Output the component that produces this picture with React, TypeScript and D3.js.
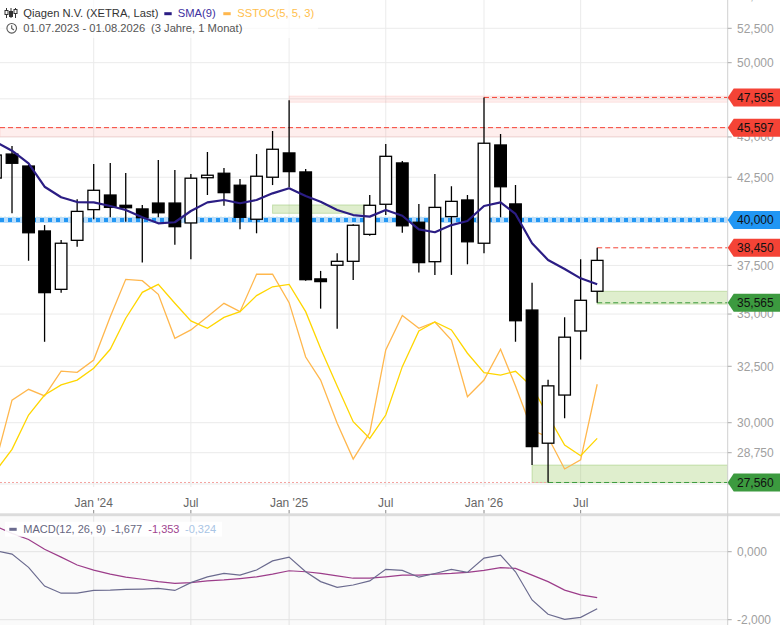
import React from 'react';
import * as d3 from 'd3';

const months = [
  "2023-07","2023-08","2023-09","2023-10","2023-11","2023-12",
  "2024-01","2024-02","2024-03","2024-04","2024-05","2024-06",
  "2024-07","2024-08","2024-09","2024-10","2024-11","2024-12",
  "2025-01","2025-02","2025-03","2025-04","2025-05","2025-06",
  "2025-07","2025-08","2025-09","2025-10","2025-11","2025-12",
  "2026-01","2026-02","2026-03","2026-04","2026-05","2026-06",
  "2026-07","2026-08"
];
const opens = [42.45,43.92,43.18,39.38,36.25,38.86, 40.59,41.44,40.84,40.63,40.97,40.97, 39.83,42.47,42.74,42.02,40.04,42.50, 43.99,42.82,36.79,37.51,37.72,39.19, 40.90,43.37,39.87,37.70,40.19,41.15, 38.70,44.49,40.92,35.20,29.14,31.20, 34.17,36.15];
const highs = [44.30,44.43,43.25,39.71,38.88,41.19, 43.31,43.37,42.76,40.86,43.55,42.94, 42.70,44.05,43.06,42.39,43.92,45.38, 47.40,43.00,37.21,38.15,39.75,41.44, 44.55,43.49,40.92,42.70,41.96,41.44, 47.595,45.19,42.03,36.59,31.88,34.84, 37.83,38.45];
const lows = [42.20,40.38,37.75,33.65,36.08,38.51, 40.04,40.15,39.90,37.65,40.15,38.62, 37.83,41.44,40.82,39.47,39.25,42.03, 41.90,36.70,35.27,34.28,36.73,39.12, 40.28,39.28,37.12,37.00,37.00,37.56, 38.15,40.15,33.65,28.25,27.56,30.19, 32.82,35.565];
const closes = [43.86,43.35,39.28,36.08,38.70,40.49, 41.72,40.72,40.70,40.13,40.41,39.62, 42.44,42.62,41.58,40.15,42.56,44.22, 42.84,36.75,36.65,37.72,39.70,40.84, 43.78,39.67,37.65,40.72,41.07,38.78, 44.60,41.93,34.67,29.00,31.61,33.87, 35.69,37.77];
const sma9 = [44.68,44.13,43.35,41.93,41.31,41.03, 41.01,40.80,40.57,40.15,39.81,39.87, 40.51,41.01,41.15,40.96,41.15,41.54, 41.84,41.38,41.05,40.57,40.28,40.19, 40.57,40.24,39.47,39.31,39.71,39.94, 40.80,41.01,40.34,38.70,37.79,37.31, 36.82,36.51];
const stochK = [10.9,39.5,44.4,41.4,52.7,52.1, 57.7,77.4,94.4,93.8,87.6,67.6, 71.4,77.4,83.5,79.7,96.7,96.7, 83.8,59.1,48.6,29.0,12.7,24.7, 62.3,78.0,72.1,75.0,66.8,41.0, 48.6,62.6,45.9,25.9,22.6,8.2, 12.3,46.7];
const stochD = [7.1,17.1,32.7,41.8,46.4,48.6, 54.0,62.6,76.7,88.5,92.1,83.5, 75.5,72.1,77.1,79.7,87.0,91.0, 92.1,79.7,63.0,45.9,29.7,22.1, 32.7,54.7,70.9,75.0,71.4,60.8, 52.0,50.9,52.6,45.6,32.3,19.1, 14.2,22.1];
const macdLine = [0.03,-0.07,-0.46,-1.01,-1.22,-1.22, -1.14,-1.13,-1.11,-1.10,-1.08,-1.14, -0.91,-0.74,-0.64,-0.69,-0.54,-0.27, -0.16,-0.59,-0.88,-1.05,-0.98,-0.86, -0.52,-0.55,-0.75,-0.64,-0.52,-0.61, -0.19,-0.10,-0.59,-1.42,-1.84,-1.99, -1.93,-1.677];
const macdSignal = [0.75,0.54,0.36,0.07,-0.16,-0.39, -0.54,-0.66,-0.75,-0.81,-0.88,-0.93, -0.91,-0.86,-0.83,-0.79,-0.74,-0.66, -0.56,-0.59,-0.64,-0.71,-0.78,-0.78, -0.74,-0.69,-0.69,-0.66,-0.64,-0.61, -0.55,-0.47,-0.49,-0.69,-0.88,-1.13, -1.27,-1.353];

const priceTicks = [55, 52.5, 50, 47.5, 45, 42.5, 40, 37.5, 35, 32.5, 30, 28.75, 27.5];
const macdTicks = [0, -2];
const xTickMonths = ["2024-01","2024-07","2025-01","2025-07","2026-01","2026-07"];
const xTickLabels = ["Jan '24","Jul","Jan '25","Jul","Jan '26","Jul"];

const markerValues = [47.595, 45.597, 40.0, 38.45, 35.565, 27.56];
const markerKinds = ["red", "red", "blue", "red", "green", "green"];

// zones: [startMonth or null(left edge), endMonth or null(right edge), low, high]
const redZones: [string | null, string | null, number, number][] = [[null, null, 45.0, 45.597], ["2025-01", null, 47.27, 47.69]];
const greenZones: [string, string | null, number, number][] = [["2024-12", "2025-06", 40.38, 40.86], ["2026-08", null, 35.5, 36.15], ["2026-04", null, 27.56, 28.25]];
// dashed level lines: [startMonth or null, value, kind]
const levelLines: [string | null, number, string][] = [
  [null, 45.597, "red"], ["2026-01", 47.595, "red"], ["2026-08", 38.45, "red"],
  ["2026-08", 35.565, "green"], ["2026-05", 27.56, "green"]
];
const supportLine = 40.15;
const trendLine = 40.0;

const legendMacd = ["-1,677", "-1,353", "-0,324"];

const COLORS: Record<string, string> = { red: "#f44336", blue: "#2196f3", green: "#3c9a3f" };

export default function App() {
  const axisX = 727.7;
  const mainBottom = 487;
  const parse = d3.timeParse("%Y-%m");
  const dates = months.map(m => parse(m) as Date);
  const x = d3.scaleTime().domain([parse("2024-01") as Date, parse("2026-01") as Date]).range([93.7, 484]);
  const y = d3.scaleLog().domain([52.5, 30]).range([28.3, 422.7]);
  const ys = d3.scaleLinear().domain([0, 100]).range([487, 267]);
  const ym = d3.scaleLinear().domain([0, -2]).range([551.7, 619.7]);
  const fmt = (v: number) => v.toFixed(3).replace(".", ",");
  const xm = (m: string | null) => (m === null ? 0 : x(parse(m) as Date));
  const xe = (m: string | null) => (m === null ? axisX : x(parse(m) as Date));

  const idx = d3.range(months.length);
  const lineP = (arr: number[], sc: (v: number) => number) =>
    d3.line<number>().x(i => x(dates[i])).y(i => sc(arr[i]))(idx) || "";

  const font = "'Liberation Sans', Arial, sans-serif";
  const bw = 11.6;

  return (
    <svg width={780} height={625} style={{ position: "absolute", left: 0, top: 0, background: "#fff" }} fontFamily={font}>
      <defs>
        <clipPath id="mainClip"><rect x={0} y={0} width={axisX} height={mainBottom} /></clipPath>
        <clipPath id="macdClip"><rect x={0} y={516} width={axisX} height={109} /></clipPath>
      </defs>

      {/* main panel grid */}
      <g stroke="#ebebeb" strokeWidth={1}>
        {priceTicks.map(t => <line key={"g" + t} x1={0} x2={axisX} y1={y(t)} y2={y(t)} />)}
        {xTickMonths.map(m => <line key={"v" + m} x1={xm(m)} x2={xm(m)} y1={0} y2={mainBottom} />)}
      </g>

      {/* MACD panel background */}
      <rect x={0} y={516} width={axisX} height={109} fill="#fafafa" />
      <g stroke="#e3e3e3" strokeWidth={1}>
        {macdTicks.map(t => <line key={"mg" + t} x1={0} x2={axisX} y1={ym(t)} y2={ym(t)} />)}
        {xTickMonths.map(m => <line key={"mv" + m} x1={xm(m)} x2={xm(m)} y1={516} y2={625} />)}
      </g>
      <rect x={0} y={513.3} width={780} height={2.9} fill="#dcdcdc" />

      <g clipPath="url(#mainClip)">
        {/* zones */}
        {redZones.map((z, i) => (
          <rect key={"rz" + i} x={xm(z[0])} width={xe(z[1]) - xm(z[0])} y={y(z[3])} height={y(z[2]) - y(z[3])}
            fill="rgba(244,67,54,0.09)" stroke="rgba(244,67,54,0.1)" strokeWidth={1} />
        ))}
        {greenZones.map((z, i) => (
          <rect key={"gz" + i} x={xm(z[0])} width={xe(z[1]) - xm(z[0])} y={y(z[3])} height={y(z[2]) - y(z[3])}
            fill="rgba(139,195,74,0.28)" stroke="rgba(120,180,70,0.35)" strokeWidth={1} />
        ))}
        {/* pink dotted at bottom level before green dashed */}
        <line x1={0} x2={xm("2026-05")} y1={y(27.56)} y2={y(27.56)} stroke="#f4a3a0" strokeWidth={1} strokeDasharray="2,2" />
        {/* support dotted light green */}
        <line x1={0} x2={axisX} y1={y(supportLine)} y2={y(supportLine)} stroke="#a5d6a7" strokeWidth={1} strokeDasharray="2,2" />
        {/* blue dotted trend line */}
        <line x1={0} x2={axisX} y1={y(trendLine)} y2={y(trendLine)} stroke="#bbdefb" strokeWidth={6} />
        <line x1={0} x2={axisX} y1={y(trendLine)} y2={y(trendLine)} stroke="#2196f3" strokeWidth={4} strokeDasharray="4,4" />
        {/* dashed level lines */}
        {levelLines.map((l, i) => (
          <line key={"ll" + i} x1={xm(l[0])} x2={axisX} y1={y(l[1])} y2={y(l[1])}
            stroke={COLORS[l[2]]} strokeWidth={1} strokeDasharray="5,3" />
        ))}

        {/* stochastic */}
        <path d={lineP(stochK, ys)} fill="none" stroke="#ffb74d" strokeWidth={1.3} />
        <path d={lineP(stochD, ys)} fill="none" stroke="#ffd600" strokeWidth={1.3} />

        {/* candles */}
        {idx.map(i => {
          const cx = x(dates[i]);
          const up = closes[i] >= opens[i];
          const top = y(Math.max(opens[i], closes[i]));
          const bot = y(Math.min(opens[i], closes[i]));
          return (
            <g key={"c" + i}>
              <line x1={cx} x2={cx} y1={y(highs[i])} y2={y(lows[i])} stroke="#000" strokeWidth={1.3} />
              <rect x={cx - bw / 2} width={bw} y={top} height={Math.max(bot - top, 1)}
                fill={up ? "#fff" : "#000"} stroke="#000" strokeWidth={1.3} />
            </g>
          );
        })}

        {/* SMA */}
        <path d={lineP(sma9, y)} fill="none" stroke="#2b1d84" strokeWidth={2.2} strokeLinejoin="round" />
      </g>

      {/* MACD */}
      <g clipPath="url(#macdClip)">
        <path d={lineP(macdSignal, ym)} fill="none" stroke="#9c3d8a" strokeWidth={1.2} />
        <path d={lineP(macdLine, ym)} fill="none" stroke="#6b6b8f" strokeWidth={1.2} />
      </g>

      {/* right axis */}
      <line x1={axisX} x2={axisX} y1={0} y2={625} stroke="#d0d0d0" strokeWidth={1} />
      {priceTicks.map(t => (
        <g key={"pt" + t}>
          <line x1={axisX} x2={axisX + 4} y1={y(t)} y2={y(t)} stroke="#aaa" />
          <text x={737} y={y(t) + 4.3} fontSize={12} fill="#a0a0a0">{fmt(t)}</text>
        </g>
      ))}
      {macdTicks.map(t => (
        <g key={"mt" + t}>
          <line x1={axisX} x2={axisX + 4} y1={ym(t)} y2={ym(t)} stroke="#aaa" />
          <text x={737} y={ym(t) + 4.3} fontSize={12} fill="#a0a0a0">{fmt(t)}</text>
        </g>
      ))}

      {/* badges */}
      {markerValues.map((v, i) => {
        const yc = y(v);
        const pts = [[axisX, yc], [axisX + 6, yc - 9], [780, yc - 9], [780, yc + 9], [axisX + 6, yc + 9]];
        return (
          <g key={"b" + i}>
            <polygon points={pts.map(p => p.join(",")).join(" ")} fill={COLORS[markerKinds[i]]} />
            <text x={737} y={yc + 4.3} fontSize={12} fill="#111">{fmt(v)}</text>
          </g>
        );
      })}

      {/* x axis labels */}
      {xTickMonths.map((m, i) => (
        <g key={"xl" + m}>
          <text x={xm(m)} y={507} fontSize={12} fill="#666" textAnchor="middle">{xTickLabels[i]}</text>
          <line x1={xm(m)} x2={xm(m)} y1={510} y2={513.3} stroke="#888" />
        </g>
      ))}

      {/* top legend */}
      <rect x={0} y={0} width={318} height={38} fill="#fff" opacity={0.7} />
      <g stroke="#333" strokeWidth={1} fill="none">
        <line x1={6.5} x2={6.5} y1={8} y2={18} />
        <rect x={5} y={10.5} width={3} height={4} fill="#fff" />
        <line x1={11} x2={11} y1={8} y2={18} />
        <rect x={9.5} y={11.5} width={3} height={5} fill="#333" />
        <line x1={15.5} x2={15.5} y1={8} y2={18} />
        <rect x={14} y={9.5} width={3} height={4} fill="#fff" />
      </g>
      <text x={23.3} y={16.7} fontSize={11.2} fill="#333">Qiagen N.V. (XETRA, Last)</text>
      <rect x={164.3} y={12.2} width={7.4} height={3} fill="#2b1d84" />
      <text x={177.7} y={16.7} fontSize={11.2} fill="#3d2fa0">SMA(9)</text>
      <rect x={223.3} y={12.2} width={7.4} height={3} fill="#ffb74d" />
      <text x={237.3} y={16.7} fontSize={11.2} fill="#ffc04d">SSTOC(5, 5, 3)</text>

      <g stroke="#555" strokeWidth={1.1} fill="none">
        <circle cx={11.7} cy={28.3} r={4.8} />
        <polyline points="11.7,25.3 11.7,28.5 13.9,30" />
      </g>
      <text x={23.3} y={31.7} fontSize={11.2} fill="#555">01.07.2023 - 01.08.2026</text>
      <text x={151} y={31.7} fontSize={11.2} fill="#555">(3 Jahre, 1 Monat)</text>

      {/* MACD legend */}
      <rect x={5} y={521.7} width={217} height={15} fill="#fff" opacity={0.9} />
      <rect x={9.3} y={527.8} width={7.4} height={3} fill="#6b6b8f" />
      <text x={23.3} y={533} fontSize={11} fill="#666680">MACD(12, 26, 9)</text>
      <text x={111} y={533} fontSize={11} fill="#666680">{legendMacd[0]}</text>
      <text x={148.3} y={533} fontSize={11} fill="#a0448f">{legendMacd[1]}</text>
      <text x={185} y={533} fontSize={11} fill="#a9c5e5">{legendMacd[2]}</text>
    </svg>
  );
}
